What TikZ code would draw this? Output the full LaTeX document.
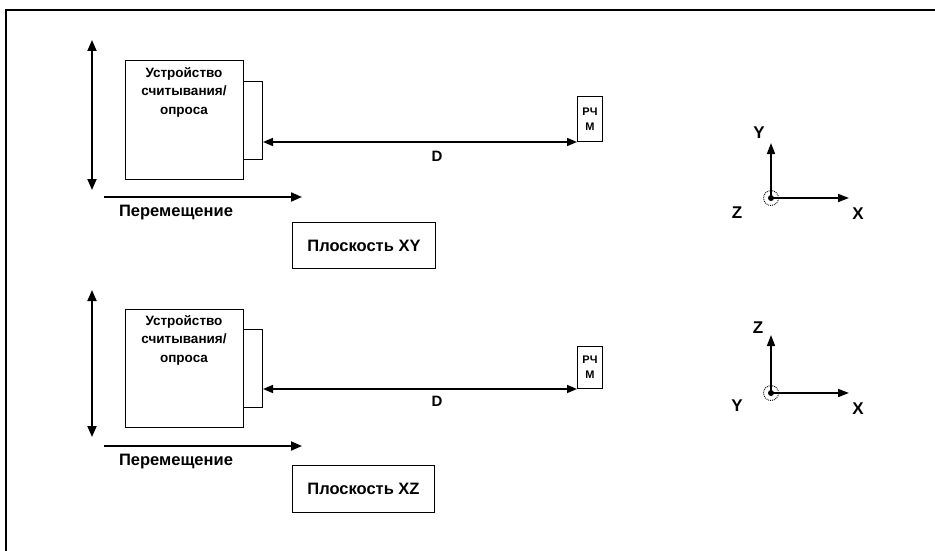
\documentclass[tikz,border=0pt]{standalone}
\usepackage{fontspec}
\setmainfont{Liberation Sans}
\usetikzlibrary{arrows.meta,calc}
\tikzset{
  frame/.style={line width=1.3pt},
  boxx/.style={draw,line width=1pt,inner sep=0pt},
  arr/.style={line width=2pt,-{Triangle[length=11pt,width=9pt]}},
  darr/.style={line width=2pt,{Triangle[length=11pt,width=9pt]}-{Triangle[length=11pt,width=9pt]}},
  thinarr/.style={line width=1.6pt,{Triangle[length=10pt,width=8pt]}-{Triangle[length=10pt,width=8pt]}},
  axarr/.style={line width=1.6pt,-{Triangle[length=11pt,width=8pt]}},
  lbl/.style={font=\fontsize{16.5}{18}\selectfont\bfseries,inner sep=0pt},
  axlbl/.style={font=\fontsize{17}{19}\selectfont\bfseries,inner sep=0pt},
  devtxt/.style={font=\fontsize{13.5}{18.5}\selectfont\bfseries,align=center,inner sep=0pt},
  tagtxt/.style={font=\fontsize{11}{15}\selectfont\bfseries,align=center,inner sep=0pt},
  dtxt/.style={font=\fontsize{15}{16}\selectfont\bfseries,inner sep=0pt},
  orig/.style={circle,draw,densely dotted,line width=0.9pt,minimum size=15pt,inner sep=0pt},
}
\begin{document}
\begin{tikzpicture}[x=1pt,y=-1pt]
\useasboundingbox (0,0) rectangle (935,551);
\fill[white] (0,0) rectangle (935,551);
\draw[frame] (6,551) -- (6,10) -- (935,10);

% ---------- top panel ----------
\coordinate (v1a) at (92,40);
\coordinate (v1b) at (92,190);
\draw[darr] (v1a) -- (v1b);
\node[boxx,minimum width=118pt,minimum height=119pt,anchor=north west] (dev1) at (125,60) {};
\node[devtxt] (dev1t) at (184,92) {Устройство\\считывания/\\опроса};
\node[boxx,minimum width=19pt,minimum height=78pt,anchor=north west] (side1) at (243,81) {};
\node[boxx,minimum width=25pt,minimum height=45pt,anchor=north west,tagtxt] (tag1) at (577,96) {РЧ\\М};
\draw[thinarr] (side1.east |- tag1.south) -- (tag1.south west);
\node[dtxt] (d1) at (437,156) {D};
\coordinate (h1a) at (104,197);
\coordinate (h1b) at (302,197);
\draw[arr] (h1a) -- (h1b);
\node[lbl] (mv1) at (176,213) {Перемещение};
\node[boxx,minimum width=143pt,minimum height=46pt,anchor=north west,lbl] (pl1) at (292,222) {Плоскость XY};

\node[orig] (o1) at (771,198) {};
\fill (o1.center) circle (3pt);
\coordinate (y1) at (771,143);
\coordinate (x1) at (849,198);
\draw[axarr] (o1.center) -- (y1);
\draw[axarr] (o1.center) -- (x1);
\node[axlbl] (ly1) at (759,133) {Y};
\node[axlbl] (lz1) at (737,213) {Z};
\node[axlbl] (lx1) at (858,214) {X};

% ---------- bottom panel ----------
\coordinate (v2a) at (92,290);
\coordinate (v2b) at (92,437);
\draw[darr] (v2a) -- (v2b);
\node[boxx,minimum width=118pt,minimum height=118pt,anchor=north west] (dev2) at (125,309) {};
\node[devtxt] (dev2t) at (184,340) {Устройство\\считывания/\\опроса};
\node[boxx,minimum width=19pt,minimum height=78pt,anchor=north west] (side2) at (243,329) {};
\node[boxx,minimum width=25pt,minimum height=42pt,anchor=north west,tagtxt] (tag2) at (577,346) {РЧ\\М};
\draw[thinarr] (side2.east |- tag2.south) -- (tag2.south west);
\node[dtxt] (d2) at (437,401) {D};
\coordinate (h2a) at (104,446);
\coordinate (h2b) at (302,446);
\draw[arr] (h2a) -- (h2b);
\node[lbl] (mv2) at (176,462) {Перемещение};
\node[boxx,minimum width=142pt,minimum height=47pt,anchor=north west,lbl] (pl2) at (292,465) {Плоскость XZ};

\node[orig] (o2) at (771,393) {};
\fill (o2.center) circle (3pt);
\coordinate (z2) at (771,335);
\coordinate (x2) at (849,393);
\draw[axarr] (o2.center) -- (z2);
\draw[axarr] (o2.center) -- (x2);
\node[axlbl] (lz2) at (758,328) {Z};
\node[axlbl] (ly2) at (737,406) {Y};
\node[axlbl] (lx2) at (858,409) {X};
\end{tikzpicture}
\end{document}
